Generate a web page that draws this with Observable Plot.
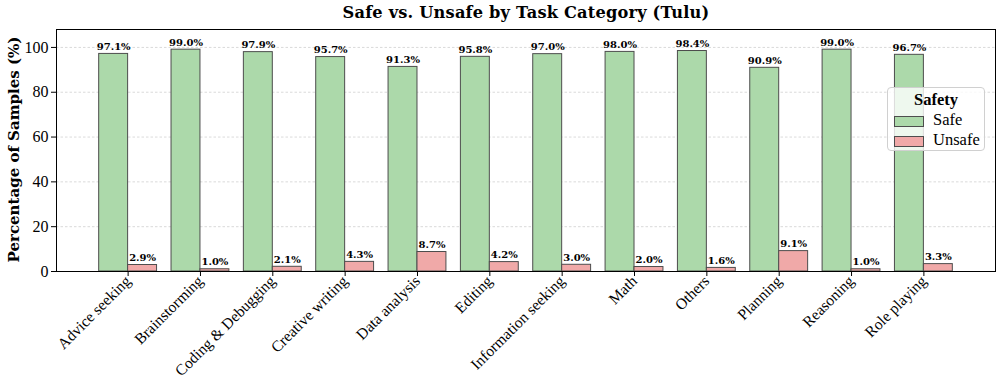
<!DOCTYPE html>
<html><head><meta charset="utf-8">
<script src="https://cdn.jsdelivr.net/npm/d3@7"></script>
<script src="https://cdn.jsdelivr.net/npm/@observablehq/plot@0.6"></script>
<style>
body{margin:0;background:#fff;}
#wrap{position:relative;width:996px;height:380px;font-family:"Liberation Serif",serif;}
#title{height:24px;box-sizing:border-box;padding-left:56px;width:996px;text-align:center;font-weight:bold;font-size:16.2px;line-height:25px;font-family:"DejaVu Serif",serif;letter-spacing:0.2px;}
#legend{position:absolute;left:887px;top:87px;width:98px;height:64px;box-sizing:border-box;border:1px solid #d0d0d0;border-radius:4px;background:rgba(255,255,255,0.8);font-family:"Liberation Serif",serif;font-size:16.5px;}
#legend .t{position:absolute;left:0;right:0;top:2px;text-align:center;font-weight:bold;}
#legend .row{position:absolute;left:6px;height:16px;}
#legend .sw{position:absolute;left:0;top:2px;width:28px;height:9px;border:1px solid #4d4d4d;}
#legend .lb{position:absolute;left:39px;top:-4px;white-space:nowrap;}
</style></head>
<body>
<div id="wrap">
<div id="title">Safe vs. Unsafe by Task Category (Tulu)</div>
<div id="chart"></div>
<div id="legend"></div>
</div>
<script>
const categories = ["Advice seeking","Brainstorming","Coding & Debugging","Creative writing","Data analysis","Editing","Information seeking","Math","Others","Planning","Reasoning","Role playing"];
const safeValues = [97.1,99.0,97.9,95.7,91.3,95.8,97.0,98.0,98.4,90.9,99.0,96.7];
const unsafeValues = [2.9,1.0,2.1,4.3,8.7,4.2,3.0,2.0,1.6,9.1,1.0,3.3];
const seriesNames = ["Safe","Unsafe"];
const seriesColors = ["#acd9aa","#f0a9a8"];
const yTicks = [0,20,40,60,80,100];
const yLabel = "Percentage of Samples (%)";
const legendTitle = "Safety";

const rows = [];
categories.forEach((c,i)=>{
  rows.push({i, c, s:"Safe", v:safeValues[i]});
  rows.push({i, c, s:"Unsafe", v:unsafeValues[i]});
});
const bw = 0.4;
const x1 = d => d.s==="Safe" ? d.i-bw : d.i;
const x2 = d => d.s==="Safe" ? d.i : d.i+bw;
const xm = d => d.s==="Safe" ? d.i-bw/2 : d.i+bw/2;

const chart = Plot.plot({
  width:996, height:356,
  marginLeft:56, marginRight:1, marginTop:5, marginBottom:109,
  style:{fontFamily:"'Liberation Serif', serif", background:"#fff", color:"#000"},
  x:{domain:[-0.99,11.99]},
  y:{domain:[0,108]},
  color:{domain:seriesNames, range:seriesColors},
  marks:[
    Plot.gridY(yTicks,{stroke:"#b0b0b0", strokeOpacity:0.6, strokeDasharray:"2.5,2", strokeWidth:0.8}),
    Plot.rectY(rows,{x1, x2, y:"v", fill:"s", stroke:"#4d4d4d", strokeWidth:1}),
    Plot.text(rows,{x:xm, y:"v", text:d=>d.v.toFixed(1)+"%", dy:-7, fontWeight:"bold", fontSize:10, fontFamily:"'DejaVu Serif', serif"}),
    Plot.frame({stroke:"#000", strokeWidth:1}),
    Plot.axisY(yTicks,{tickSize:5, tickPadding:3, fontSize:16, label:null}),
    Plot.axisX(d3.range(categories.length),{tickFormat:i=>categories[i], tickRotate:-45, tickSize:5, tickPadding:2, fontSize:15.5, label:null}),
    Plot.text([yLabel],{frameAnchor:"left", textAnchor:"middle", rotate:-90, dx:-42, dy:-1, fontWeight:"bold", fontSize:15, fontFamily:"'DejaVu Serif', serif"})
  ]
});
document.getElementById("chart").appendChild(chart);

const lg = document.getElementById("legend");
lg.innerHTML = `<div class="t">${legendTitle}</div>` + seriesNames.map((n,k)=>
  `<div class="row" style="top:${26+k*20}px"><div class="sw" style="background:${seriesColors[k]}"></div><div class="lb">${n}</div></div>`).join("");
</script>
</body></html>
